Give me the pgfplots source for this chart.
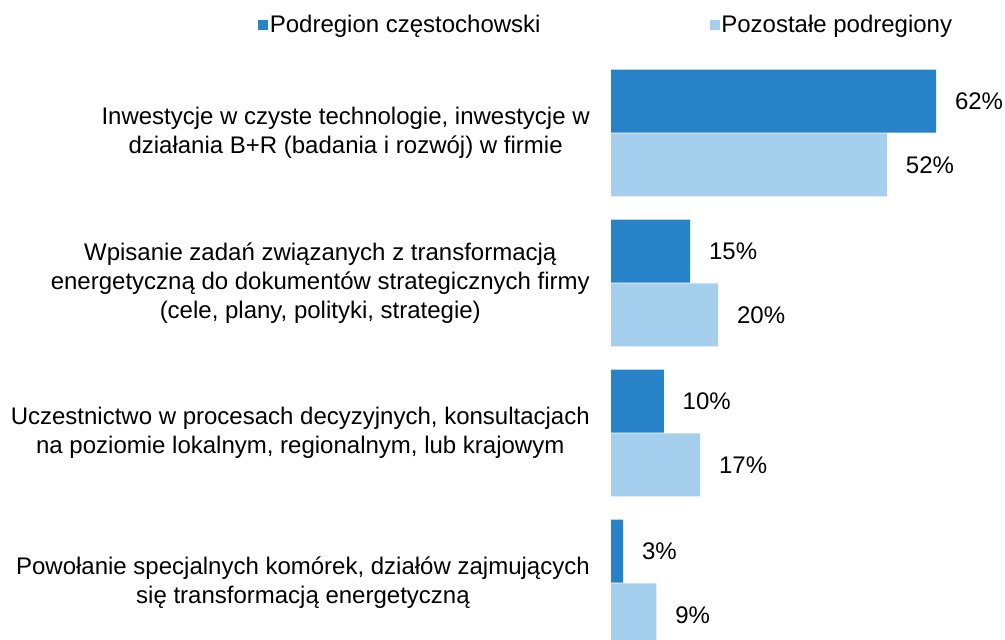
\documentclass[border=0pt]{standalone}
\usepackage{fontspec}
\setmainfont{Liberation Sans}
\usepackage{pgfplots}
\pgfplotsset{compat=1.18}
\definecolor{darkblue}{RGB}{40,130,200}
\definecolor{lightblue}{RGB}{166,207,238}
\begin{document}
\begin{tikzpicture}
\begin{axis}[
    at={(458.25pt,-43.5pt)}, anchor=north west,
    scale only axis,
    width=285pt, height=435.75pt,
    xmin=0, xmax=72,
    ymin=-0.5, ymax=3.3733,
    y dir=reverse,
    xbar, bar width=0.42,
    every axis plot post/.append style={
        legend image code/.code={\fill[##1,draw=none] (0pt,-3.75pt) rectangle (7.5pt,3.75pt);}
    },
    font=\fontsize{18}{21.75}\selectfont,
    /pgf/number format/assume math mode=true,
    axis line style={draw=none},
    major tick length=0pt,
    xtick=\empty,
    ytick={0,1,2,3},
    yticklabels={
        {Inwestycje w czyste technologie, inwestycje w\\działania B+R (badania i rozwój) w firmie},
        {Wpisanie zadań związanych z transformacją\\energetyczną do dokumentów strategicznych firmy\\(cele, plany, polityki, strategie)},
        {Uczestnictwo w procesach decyzyjnych, konsultacjach\\na poziomie lokalnym, regionalnym, lub krajowym},
        {Powołanie specjalnych komórek, działów zajmujących\\się transformacją energetyczną}
    },
    yticklabel style={align=center, inner sep=0pt, xshift=-15.75pt},
    point meta=explicit,
    nodes near coords={\pgfmathprintnumber{\pgfplotspointmeta}\%},
    nodes near coords style={anchor=west, inner sep=0pt, xshift=14pt, font=\fontsize{18}{21.75}\selectfont},
    legend columns=2,
    legend style={
        draw=none, fill=none,
        at={(-0.0132,1.0568)}, anchor=center,
        nodes={inner sep=1pt},
        /tikz/every even column/.append style={column sep=126pt},
    },
]
% Podregion czestochowski
\addplot[fill=darkblue, draw=none, bar shift=-0.213]
table[x=x, y=y, meta=lab] {
x y lab
61.6 0 62
15.0 1 15
10.0 2 10
2.3 3 3
};
\addlegendentry{Podregion częstochowski}
% Pozostale podregiony
\addplot[fill=lightblue, draw=none, bar shift=0.213]
table[x=x, y=y, meta=lab] {
x y lab
52.3 0 52
20.3 1 20
16.9 2 17
8.6 3 9
};
\addlegendentry{Pozostałe podregiony}
\end{axis}
\pgfresetboundingbox
\path (0pt,0pt) rectangle (753.75pt,-479.25pt);
\end{tikzpicture}
\end{document}
